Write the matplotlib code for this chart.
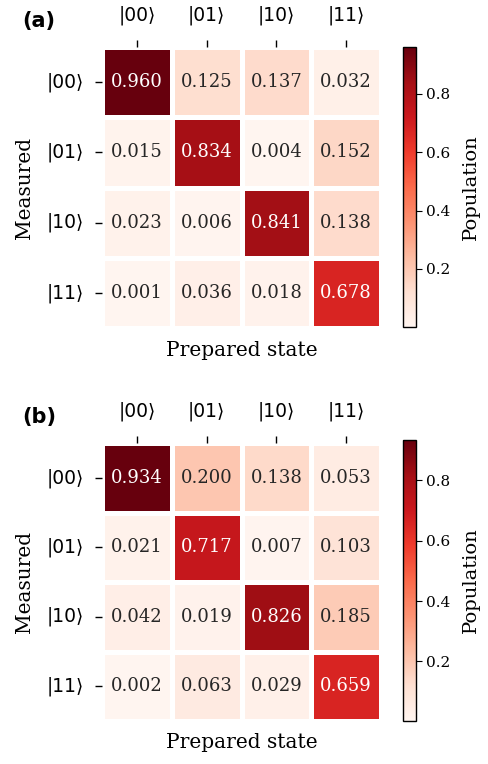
import numpy as np
import matplotlib
matplotlib.use("Agg")
import matplotlib.pyplot as plt
import seaborn as sns

states = ["|00⟩", "|01⟩", "|10⟩", "|11⟩"]
# rows: measured, columns: prepared
pop_a = np.array([
    [0.960, 0.125, 0.137, 0.032],
    [0.015, 0.834, 0.004, 0.152],
    [0.023, 0.006, 0.841, 0.138],
    [0.001, 0.036, 0.018, 0.678],
])
pop_b = np.array([
    [0.934, 0.200, 0.138, 0.053],
    [0.021, 0.717, 0.007, 0.103],
    [0.042, 0.019, 0.826, 0.185],
    [0.002, 0.063, 0.029, 0.659],
])
panel_labels = ["(a)", "(b)"]

fig = plt.figure(figsize=(4.88, 7.64), dpi=100)
W, H = 488, 764

def box(x0, y0, x1, y1):
    return [x0 / W, 1 - y1 / H, (x1 - x0) / W, (y1 - y0) / H]

layouts = [
    (box(102, 47, 381, 328), box(403, 47, 416, 327), 0),
    (box(102, 443, 381, 721), box(403, 440, 416, 721), 396),
]

for data, lab, (hbox, cbox, yoff) in zip([pop_a, pop_b], panel_labels, layouts):
    ax = fig.add_axes(hbox)
    cax = fig.add_axes(cbox)
    sns.heatmap(data, ax=ax, cbar_ax=cax, cmap="Reds", annot=True, fmt=".3f",
                annot_kws={"fontfamily": "DejaVu Serif", "fontsize": 13},
                linewidths=3.5, linecolor="white",
                xticklabels=states, yticklabels=states)
    cbar = ax.collections[0].colorbar
    ax.xaxis.tick_top()
    ax.tick_params(axis="x", top=True, bottom=False, labeltop=True, labelbottom=False,
                   length=5, width=1, pad=11, labelsize=13.5)
    ax.tick_params(axis="y", left=True, length=5, width=1, pad=8, labelsize=13.5,
                   labelrotation=0)
    ax.set_xlabel("Prepared state", fontfamily="DejaVu Serif", fontsize=14.5, labelpad=9)
    ax.xaxis.set_label_position("bottom")
    ax.set_ylabel("Measured", fontfamily="DejaVu Serif", fontsize=14.5, labelpad=9)
    for t in ax.get_xticklabels() + ax.get_yticklabels():
        t.set_fontfamily("DejaVu Sans")
    cax.tick_params(labelsize=11, length=4)
    for t in cax.get_yticklabels():
        t.set_fontfamily("DejaVu Serif")
    cax.set_ylabel("Population", fontfamily="DejaVu Serif", fontsize=14, labelpad=8)
    if cbar is not None:
        cbar.outline.set_visible(True)
        cbar.outline.set_edgecolor("black")
        cbar.outline.set_linewidth(1)
    fig.text(22 / W, 1 - (21 + yoff) / H, lab, fontsize=15, fontweight="bold",
             ha="left", va="center", fontfamily="DejaVu Sans")

fig.savefig("out.png", dpi=100)
